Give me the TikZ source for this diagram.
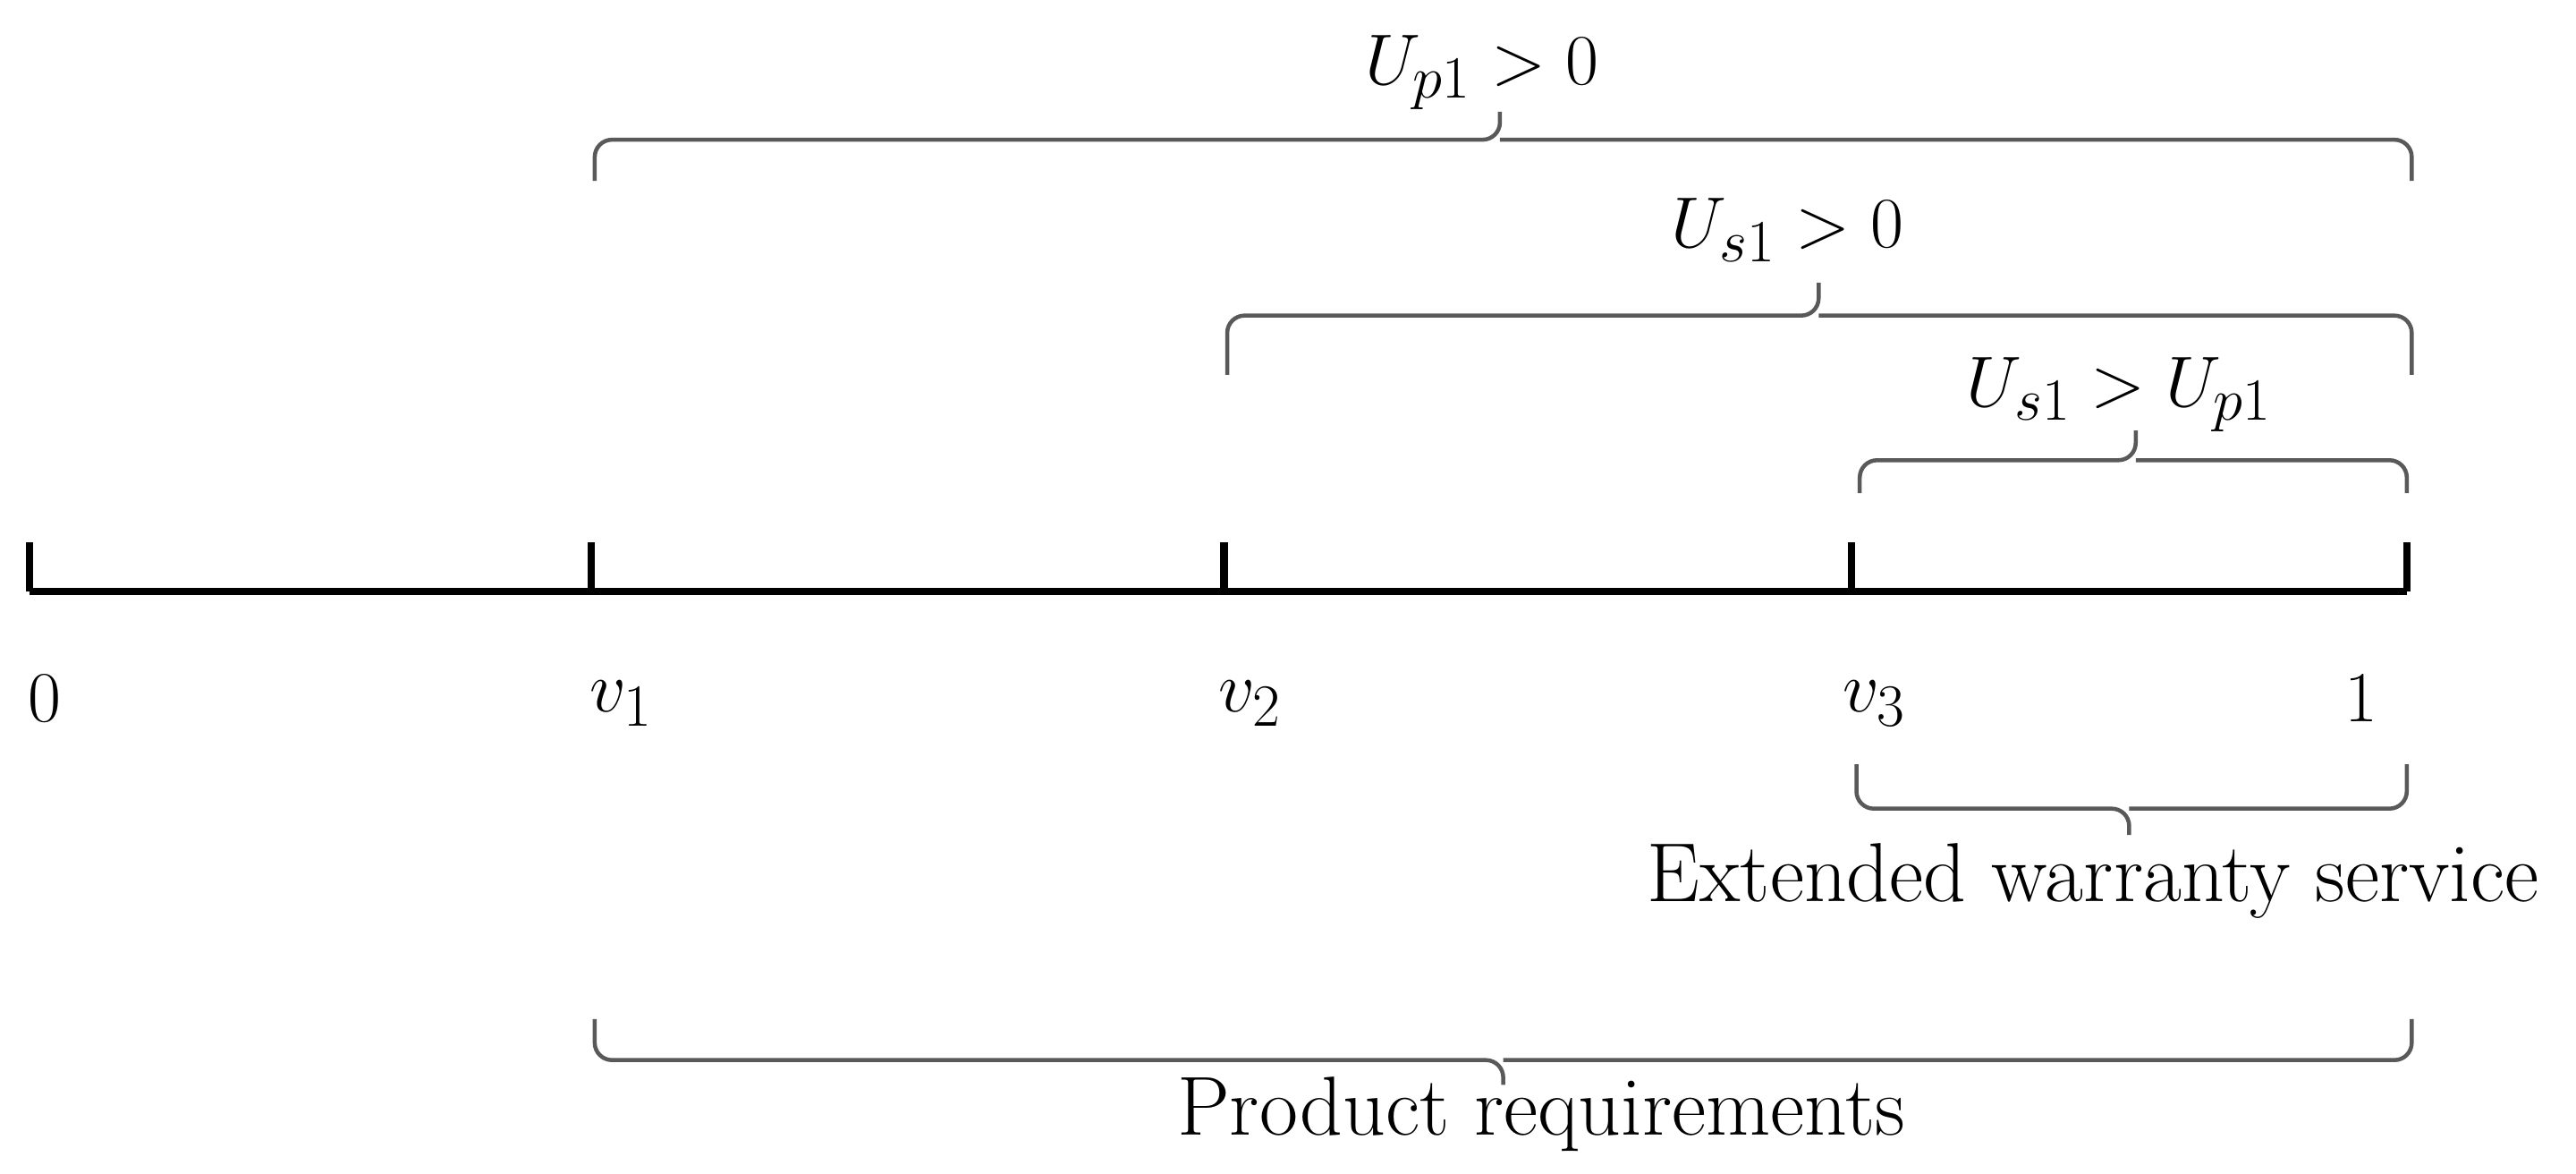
\documentclass[tikz,border=0pt]{standalone}
\begin{document}
\begin{tikzpicture}[x=0.02cm,y=-0.02cm,
  br/.style={draw=black!65,line width=1.4pt,rounded corners=6},
  ax/.style={line width=2.6pt},
  lbl/.style={font=\fontsize{29}{34}\selectfont,inner sep=0pt}]
\useasboundingbox (0,0) rectangle (1568,714);
% axis
\coordinate (a0) at (18,360); \coordinate (a1) at (360,360);
\coordinate (a2) at (745,360); \coordinate (a3) at (1127,360);
\coordinate (a4) at (1465,360);
\draw[ax] (a0) -- (a4);
\foreach \t in {a0,a1,a2,a3,a4} \draw[ax] (\t) -- ++(0,-30);
\node[lbl] (l0) at (27,425) {$0$};
\node[lbl] (l1) at (378,428) {$v_1$};
\node[lbl] (l2) at (761,428) {$v_2$};
\node[lbl] (l3) at (1141,428) {$v_3$};
\node[lbl] (l4) at (1437,425) {$1$};
% top braces
\draw[br] (362,110) |- (913,85) -- (913,68);
\draw[br] (1468,110) |- (913,85);
\node[lbl] (t1) at (902,44) {$U_{p1} > 0$};
\draw[br] (747,228) |- (1107,192) -- (1107,172);
\draw[br] (1468,228) |- (1107,192);
\node[lbl] (t2) at (1088,140) {$U_{s1} > 0$};
\draw[br] (1132,300) |- (1300,280) -- (1300,262);
\draw[br] (1465,300) |- (1300,280);
\node[lbl] (t3) at (1290,240) {$U_{s1} > U_{p1}$};
% bottom braces
\draw[br] (1130,465) |- (1296,492) -- (1296,508);
\draw[br] (1465,465) |- (1296,492);
\node[lbl] (b1) at (1274,536) {Extended warranty service};
\draw[br] (362,620) |- (915,645) -- (915,660);
\draw[br] (1468,620) |- (915,645);
\node[lbl] (b2) at (938,678) {Product requirements};
\end{tikzpicture}
\end{document}
